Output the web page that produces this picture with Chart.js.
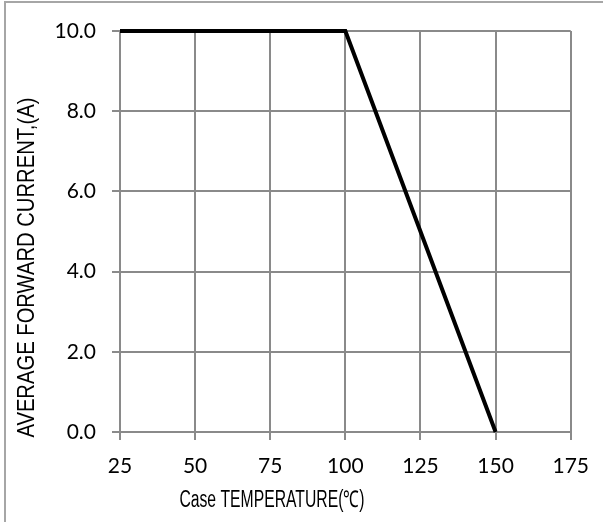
<!DOCTYPE html>
<html>
<head>
<meta charset="utf-8">
<script src="https://cdn.jsdelivr.net/npm/chart.js@4"></script>
<style>
  html, body { margin: 0; padding: 0; background: #fff; }
  #wrap { position: relative; width: 603px; height: 522px; overflow: hidden; }
  #frame { position: absolute; left: 4px; top: 1px; right: -10px; bottom: -10px;
           border-left: 2px solid #a6a6a6; border-top: 2px solid #a6a6a6; pointer-events: none; }
  canvas { position: absolute; left: 0; top: 0; }
</style>
</head>
<body>
<div id="wrap">
  <canvas id="c" width="603" height="522"></canvas>
  <div id="frame"></div>
</div>
<script>
const temperatures = [25, 100, 150];
const currents = [10.0, 10.0, 0.0];
const xTicks = [25, 50, 75, 100, 125, 150, 175];
const yTicks = [0, 2, 4, 6, 8, 10];
const xTitle = 'Case TEMPERATURE(\u2103)';
const yTitle = 'AVERAGE FORWARD CURRENT,(A)';

const gridColor = '#8a8a8a';
const tickFont = { family: 'Lato, "Open Sans", sans-serif', size: 21 };
const titleFamily = '"Liberation Sans", Arial, sans-serif';

const titlesPlugin = {
  id: 'axisTitles',
  afterDraw(chart) {
    const ctx = chart.ctx;
    const a = chart.chartArea;
    ctx.save();
    ctx.fillStyle = '#000';
    ctx.textAlign = 'center';
    ctx.textBaseline = 'middle';
    ctx.font = '23px ' + titleFamily;
    ctx.fillText(xTitle, a.left + (a.right - a.left) * 0.337, 501, 185);
    ctx.translate(27, a.top + (a.bottom - a.top) * 0.59);
    ctx.rotate(-Math.PI / 2);
    ctx.font = '24px ' + titleFamily;
    ctx.fillText(yTitle, 0, 0, 340);
    ctx.restore();
  }
};

new Chart(document.getElementById('c'), {
  type: 'scatter',
  data: {
    datasets: [{
      data: temperatures.map((t, i) => ({ x: t, y: currents[i] })),
      showLine: true,
      borderColor: '#000',
      borderWidth: 4,
      pointRadius: 0,
      pointHoverRadius: 0,
      tension: 0,
      clip: false
    }]
  },
  options: {
    responsive: false,
    animation: false,
    devicePixelRatio: 1,
    layout: { padding: { top: 31, right: 32, bottom: 0, left: 0 } },
    plugins: { legend: { display: false }, tooltip: { enabled: false } },
    scales: {
      x: {
        type: 'linear',
        min: 25, max: 175,
        afterFit(s) { s.height = 90; },
        afterBuildTicks(s) { s.ticks = xTicks.map(v => ({ value: v })); },
        ticks: { color: '#000', font: tickFont, padding: 14, callback: v => String(v), maxRotation: 0 },
        grid: { color: gridColor, lineWidth: 2, drawTicks: true, tickLength: 8, tickColor: gridColor },
        border: { color: gridColor, width: 2 }
      },
      y: {
        type: 'linear',
        min: 0, max: 10,
        afterFit(s) { s.width = 120; },
        afterBuildTicks(s) { s.ticks = yTicks.map(v => ({ value: v })); },
        ticks: { color: '#000', font: tickFont, padding: 16, callback: v => Number(v).toFixed(1) },
        grid: { color: gridColor, lineWidth: 2, drawTicks: true, tickLength: 8, tickColor: gridColor },
        border: { color: gridColor, width: 2 }
      }
    }
  },
  plugins: [titlesPlugin]
});
</script>
</body>
</html>
